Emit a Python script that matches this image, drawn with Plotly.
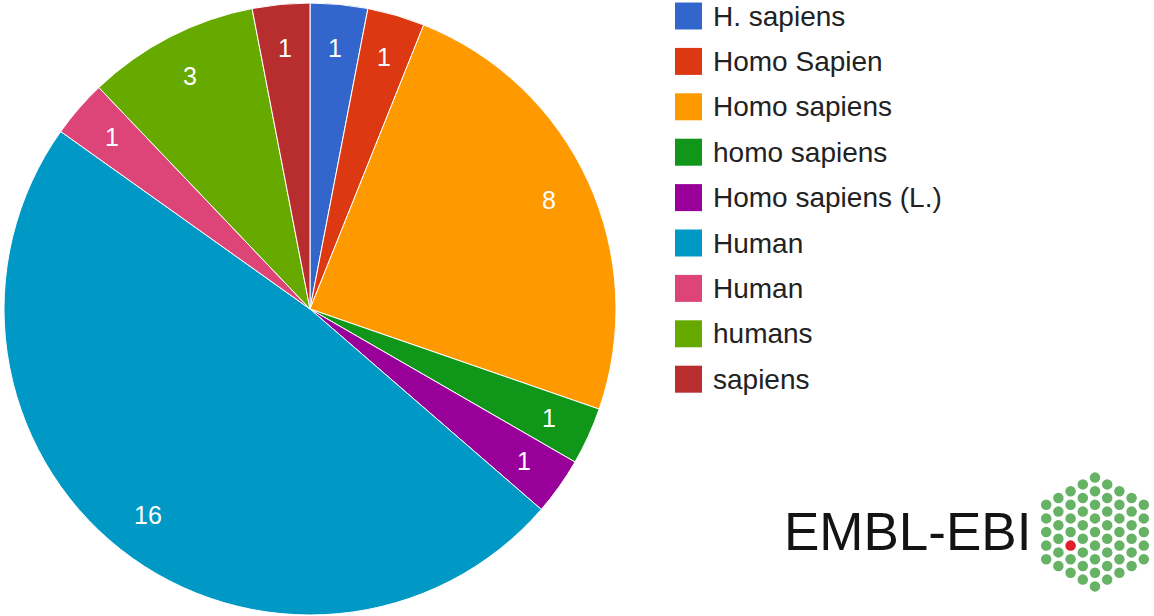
import math
import plotly.graph_objects as go

labels = ["H. sapiens", "Homo Sapien", "Homo sapiens", "homo sapiens",
          "Homo sapiens (L.)", "Human", "Human", "humans", "sapiens"]
values = [1, 1, 8, 1, 1, 16, 1, 3, 1]
colors = ["#3366cc", "#dc3912", "#ff9900", "#109618", "#990099",
          "#0099c6", "#dd4477", "#66aa00", "#b82e2e"]

W, H = 1154, 616
FONT = "Liberation Sans, Arial, sans-serif"

# unique keys so duplicate display labels stay separate slices
keys = [lab + "\u200b" * i for i, lab in enumerate(labels)]

fig = go.Figure()

# pie centre (310, 309) px, radius 306 px
cx, cy, R = 310, 309, 306
fig.add_trace(go.Pie(
    labels=keys, values=values, sort=False, direction="clockwise", rotation=0,
    marker=dict(colors=colors, line=dict(color="white", width=1)),
    textinfo="none",
    domain=dict(x=[(cx - R) / W, (cx + R) / W], y=[(H - cy - R) / H, (H - cy + R) / H]),
    showlegend=False, hoverinfo="label+value",
))

shapes = []
annotations = []

# slice value labels, placed at a fixed fraction of the radius (Google-chart style)
total = sum(values)
cum = 0
for v in values:
    mid = (cum + v / 2) / total * 2 * math.pi
    cum += v
    rr = 0.857 * R
    annotations.append(dict(xref="x", yref="y", x=cx + rr * math.sin(mid), y=cy - rr * math.cos(mid),
                            text=str(v), showarrow=False, xanchor="center", yanchor="middle",
                            font=dict(family=FONT, size=25, color="white")))

# manual legend
for i, (lab, col) in enumerate(zip(labels, colors)):
    yc = 16 + i * 45.4
    shapes.append(dict(type="rect", xref="x", yref="y", x0=675, x1=702,
                       y0=yc - 13.5, y1=yc + 13.5, fillcolor=col, line=dict(width=0)))
    annotations.append(dict(xref="x", yref="y", x=711, y=yc, text=lab, showarrow=False,
                            xanchor="left", yanchor="middle",
                            font=dict(family=FONT, size=28, color="#222222")))

# EMBL-EBI logo text
annotations.append(dict(xref="x", yref="y", x=782, y=531, text="EMBL-EBI", showarrow=False,
                        xanchor="left", yanchor="middle",
                        font=dict(family=FONT, size=53, color="#141414")))

# logo hexagon of dots (decoration)
lx, ly, dx, dy = 1095, 532, 12.2, 13.6
gx, gy, rx, ry = [], [], [], []
for k in range(-4, 5):
    n = 9 - abs(k)
    for j in range(n):
        px = lx + k * dx
        py = ly + (j - (n - 1) / 2) * dy
        if k == -2 and j == 4:
            rx.append(px); ry.append(py)
        else:
            gx.append(px); gy.append(py)
fig.add_trace(go.Scatter(x=gx, y=gy, mode="markers", showlegend=False, hoverinfo="skip",
                         marker=dict(size=10.5, color="#66b366", line=dict(width=0))))
fig.add_trace(go.Scatter(x=rx, y=ry, mode="markers", showlegend=False, hoverinfo="skip",
                         marker=dict(size=10.5, color="#e0202a", line=dict(width=0))))

fig.update_layout(
    width=W, height=H, margin=dict(l=0, r=0, t=0, b=0),
    paper_bgcolor="white", plot_bgcolor="rgba(0,0,0,0)",
    xaxis=dict(range=[0, W], visible=False, domain=[0, 1], fixedrange=True),
    yaxis=dict(range=[H, 0], visible=False, domain=[0, 1], fixedrange=True),
    shapes=shapes, annotations=annotations,
)

fig.write_html("out.html", config={"displayModeBar": False},
               post_script="document.body.style.margin='0';document.body.style.overflow='hidden';")
